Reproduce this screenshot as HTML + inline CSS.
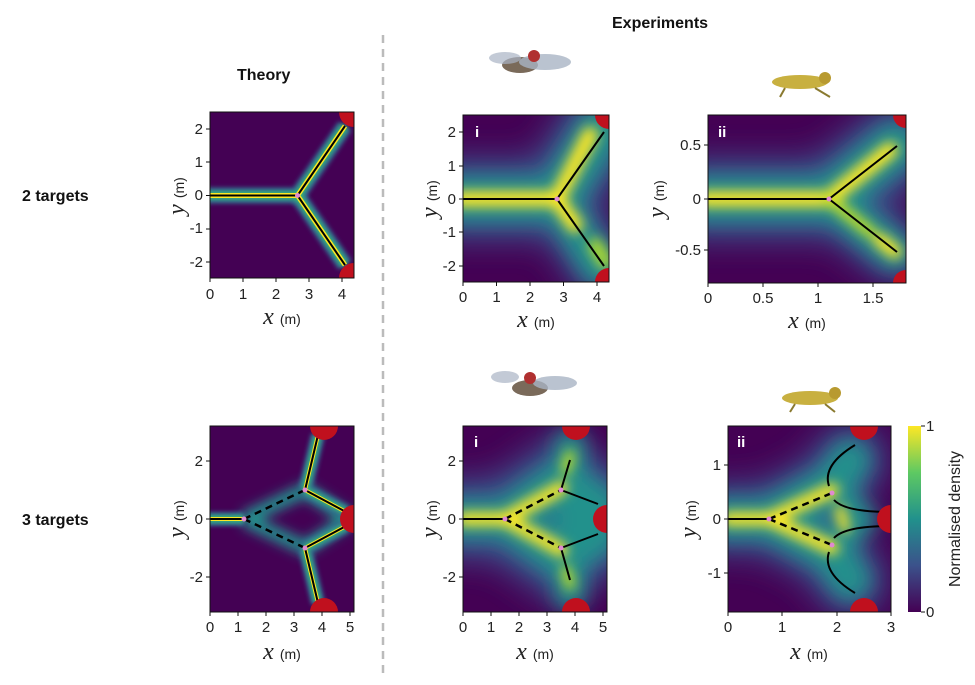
<!DOCTYPE html>
<html><head><meta charset="utf-8"><style>
body{margin:0;background:#fff;width:975px;height:685px;overflow:hidden;font-family:"Liberation Sans",sans-serif}
svg{position:absolute;left:0;top:0}
.t{font-family:"Liberation Sans",sans-serif;font-size:13px;fill:#222}
.ax{font-family:"Liberation Serif",serif;font-style:italic;font-size:24px;fill:#222}
.m{font-family:"Liberation Sans",sans-serif;font-size:14px;fill:#222;font-style:normal}
.h{font-family:"Liberation Sans",sans-serif;font-weight:bold;font-size:16px;fill:#111}
</style></head><body>
<svg width="975" height="685" viewBox="0 0 975 685">
<defs>
<filter id="b1" filterUnits="userSpaceOnUse" x="0" y="0" width="975" height="685"><feGaussianBlur stdDeviation="2"/></filter>
<filter id="b2" filterUnits="userSpaceOnUse" x="0" y="0" width="975" height="685"><feGaussianBlur stdDeviation="6"/></filter>
<filter id="b3" filterUnits="userSpaceOnUse" x="0" y="0" width="975" height="685"><feGaussianBlur stdDeviation="10"/></filter>
<filter id="b4" filterUnits="userSpaceOnUse" x="0" y="0" width="975" height="685"><feGaussianBlur stdDeviation="16"/></filter>
<clipPath id="c1"><rect x="210" y="112" width="144" height="166"/></clipPath>
<clipPath id="c2"><rect x="463" y="115" width="146" height="167"/></clipPath>
<clipPath id="c3"><rect x="708" y="115" width="198" height="168"/></clipPath>
<clipPath id="c4"><rect x="210" y="426" width="144" height="186"/></clipPath>
<clipPath id="c5"><rect x="463" y="426" width="144" height="186"/></clipPath>
<clipPath id="c6"><rect x="728" y="426" width="163" height="186"/></clipPath>
<linearGradient id="vir" x1="0" y1="1" x2="0" y2="0">
<stop offset="0" stop-color="#440154"/><stop offset="0.25" stop-color="#3b528b"/><stop offset="0.5" stop-color="#21918c"/><stop offset="0.75" stop-color="#5ec962"/><stop offset="1" stop-color="#fde725"/></linearGradient>
</defs>

<text class="h" x="237" y="80">Theory</text>
<text class="h" x="612" y="28">Experiments</text>
<text class="h" x="22" y="201">2 targets</text>
<text class="h" x="22" y="525">3 targets</text>
<line x1="383" y1="35" x2="383" y2="675" stroke="#bbb" stroke-width="2.5" stroke-dasharray="8,6"/>

<g><ellipse cx="520" cy="65" rx="18" ry="8" fill="#7a6a5a"/><ellipse cx="545" cy="62" rx="26" ry="8" fill="#a9b4c4" opacity="0.8"/><ellipse cx="505" cy="58" rx="16" ry="6" fill="#a9b4c4" opacity="0.7"/><circle cx="534" cy="56" r="6" fill="#b03030"/></g>
<g><ellipse cx="530" cy="388" rx="18" ry="8" fill="#7a6a5a"/><ellipse cx="555" cy="383" rx="22" ry="7" fill="#a9b4c4" opacity="0.8"/><ellipse cx="505" cy="377" rx="14" ry="6" fill="#a9b4c4" opacity="0.7"/><circle cx="530" cy="378" r="6" fill="#b03030"/></g>
<g><ellipse cx="800" cy="82" rx="28" ry="7" fill="#c8b040"/><circle cx="825" cy="78" r="6" fill="#b89a30"/><line x1="785" y1="88" x2="780" y2="97" stroke="#8a7a30" stroke-width="2"/><line x1="815" y1="88" x2="830" y2="97" stroke="#8a7a30" stroke-width="2"/></g>
<g><ellipse cx="810" cy="398" rx="28" ry="7" fill="#c8b040"/><circle cx="835" cy="393" r="6" fill="#b89a30"/><line x1="795" y1="404" x2="790" y2="412" stroke="#8a7a30" stroke-width="2"/><line x1="825" y1="404" x2="835" y2="412" stroke="#8a7a30" stroke-width="2"/></g>

<!-- Panel 1 -->
<g clip-path="url(#c1)">
<rect x="210" y="112" width="144" height="166" fill="#440154"/>
<g fill="none" stroke-linejoin="round">
<polyline points="205,195.5 297.5,195.5 345,126" stroke="#31688e" stroke-width="16" filter="url(#b1)"/>
<polyline points="297.5,195.5 345,265" stroke="#31688e" stroke-width="16" filter="url(#b1)"/>
<polyline points="205,195.5 297.5,195.5 345,126" stroke="#35b779" stroke-width="8" filter="url(#b1)"/>
<polyline points="297.5,195.5 345,265" stroke="#35b779" stroke-width="8" filter="url(#b1)"/>
<polyline points="205,195.5 297.5,195.5 345,126" stroke="#fde725" stroke-width="5"/>
<polyline points="297.5,195.5 345,265" stroke="#fde725" stroke-width="5"/>
<polyline points="205,195.5 297.5,195.5 345,126" stroke="#000" stroke-width="2"/>
<polyline points="297.5,195.5 345,265" stroke="#000" stroke-width="2"/>
</g>
<circle cx="297.5" cy="195.5" r="2.5" fill="#e08ad0"/>
<circle cx="354" cy="112" r="15" fill="#c0101e"/><circle cx="354" cy="278" r="15" fill="#c0101e"/>
</g>
<rect x="210" y="112" width="144" height="166" fill="none" stroke="#111"/>

<!-- Panel 2 -->
<g clip-path="url(#c2)">
<rect x="463" y="115" width="146" height="167" fill="#440154"/>
<g fill="none" stroke-linecap="round" filter="url(#b4)">
<polyline points="455,199 557,199 600,130" stroke="#3b528b" stroke-width="80"/>
<polyline points="557,199 600,268" stroke="#3b528b" stroke-width="60"/>
</g>
<g fill="none" stroke-linecap="round" filter="url(#b3)">
<polyline points="455,199 557,199 600,130" stroke="#21918c" stroke-width="45"/>
<polyline points="557,199 600,268" stroke="#21918c" stroke-width="35"/>
</g>
<g fill="none" stroke-linecap="round" filter="url(#b2)">
<polyline points="460,199 557,199 590,135" stroke="#fde725" stroke-width="16"/>
<polyline points="557,200 575,225" stroke="#fde725" stroke-width="16"/>
<polyline points="595,245 605,262" stroke="#b5de2b" stroke-width="14"/>
</g>
<polyline points="463,199 557,199 604,132" fill="none" stroke="#000" stroke-width="2"/>
<polyline points="557,199 604,266" fill="none" stroke="#000" stroke-width="2"/>
<circle cx="557" cy="199" r="2.5" fill="#e08ad0"/>
<circle cx="609" cy="115" r="14" fill="#c0101e"/><circle cx="609" cy="282" r="14" fill="#c0101e"/>
<text x="475" y="137" style="font:bold 15px 'Liberation Sans',sans-serif;fill:#fff">i</text>
</g>
<rect x="463" y="115" width="146" height="167" fill="none" stroke="#111"/>

<!-- Panel 3 -->
<g clip-path="url(#c3)">
<rect x="708" y="115" width="198" height="168" fill="#440154"/>
<g fill="none" stroke-linecap="round" filter="url(#b4)">
<polyline points="700,199 829,199 895,146" stroke="#3b528b" stroke-width="80"/>
<polyline points="829,199 895,252" stroke="#3b528b" stroke-width="60"/>
</g>
<g fill="none" stroke-linecap="round" filter="url(#b3)">
<polyline points="700,199 829,199 895,146" stroke="#21918c" stroke-width="45"/>
<polyline points="829,199 895,252" stroke="#21918c" stroke-width="35"/>
</g>
<g fill="none" stroke-linecap="round" filter="url(#b2)">
<polyline points="705,199 829,199 890,150" stroke="#fde725" stroke-width="16"/>
<polyline points="829,199 870,232" stroke="#c8e020" stroke-width="12"/>
<polyline points="880,240 895,252" stroke="#fde725" stroke-width="14"/>
</g>
<polyline points="708,199 829,199 897,146" fill="none" stroke="#000" stroke-width="2"/>
<polyline points="829,199 897,252" fill="none" stroke="#000" stroke-width="2"/>
<circle cx="829" cy="199" r="2.5" fill="#e08ad0"/>
<circle cx="906" cy="115" r="13" fill="#c0101e"/><circle cx="906" cy="283" r="13" fill="#c0101e"/>
<text x="718" y="137" style="font:bold 15px 'Liberation Sans',sans-serif;fill:#fff">ii</text>
</g>
<rect x="708" y="115" width="198" height="168" fill="none" stroke="#111"/>

<!-- Panel 4 -->
<g clip-path="url(#c4)">
<rect x="210" y="426" width="144" height="186" fill="#440154"/>
<g fill="none" stroke-linejoin="round">
<g stroke="#21918c" stroke-width="14" filter="url(#b2)">
<polyline points="244,519 305,490 349,519 305,548 244,519"/>
</g>
<g stroke="#31688e" stroke-width="14" filter="url(#b1)">
<polyline points="205,519 244,519"/><polyline points="305,490 318,435"/><polyline points="305,548 318,603"/><polyline points="305,490 346,512"/><polyline points="305,548 346,526"/>
</g>
<g stroke="#35b779" stroke-width="7" filter="url(#b1)">
<polyline points="205,519 244,519"/><polyline points="305,490 318,435"/><polyline points="305,548 318,603"/><polyline points="305,490 346,512"/><polyline points="305,548 346,526"/>
</g>
<g stroke="#fde725" stroke-width="4">
<polyline points="205,519 244,519"/><polyline points="305,490 318,435"/><polyline points="305,548 318,603"/><polyline points="305,490 346,512"/><polyline points="305,548 346,526"/>
</g>
<g stroke="#000" stroke-width="2">
<polyline points="210,519 244,519"/><polyline points="305,490 318,435"/><polyline points="305,548 318,603"/><polyline points="305,490 346,512"/><polyline points="305,548 346,526"/>
</g>
<g stroke="#000" stroke-width="2.5" stroke-dasharray="7,5"><polyline points="244,519 305,490"/><polyline points="244,519 305,548"/></g>
</g>
<circle cx="244" cy="519" r="2.5" fill="#e08ad0"/><circle cx="305" cy="490" r="2.5" fill="#e08ad0"/><circle cx="305" cy="548" r="2.5" fill="#e08ad0"/>
<circle cx="324" cy="426" r="14" fill="#c0101e"/><circle cx="354" cy="519" r="14" fill="#c0101e"/><circle cx="324" cy="612" r="14" fill="#c0101e"/>
</g>
<rect x="210" y="426" width="144" height="186" fill="none" stroke="#111"/>

<!-- Panel 5 -->
<g clip-path="url(#c5)">
<rect x="463" y="426" width="144" height="186" fill="#440154"/>
<g fill="none" stroke-linecap="round" filter="url(#b4)">
<polyline points="455,519 505,519 561,480 598,505" stroke="#3b528b" stroke-width="80"/>
<polyline points="505,519 561,558 598,535" stroke="#3b528b" stroke-width="80"/>
</g>
<g fill="none" stroke-linecap="round" filter="url(#b3)">
<polyline points="455,519 505,519 561,480 598,505" stroke="#21918c" stroke-width="40"/>
<polyline points="505,519 561,558 598,535" stroke="#21918c" stroke-width="40"/>
<polyline points="570,445 570,595" stroke="#21918c" stroke-width="30"/>
</g>
<g fill="none" stroke-linecap="round" filter="url(#b2)">
<polyline points="463,519 505,519 561,488" stroke="#fde725" stroke-width="14"/>
<polyline points="505,519 561,550" stroke="#fde725" stroke-width="14"/>
<polyline points="566,470 570,455" stroke="#c8e020" stroke-width="10"/>
<polyline points="566,570 570,585" stroke="#c8e020" stroke-width="10"/>
</g>
<polyline points="463,519 505,519" fill="none" stroke="#000" stroke-width="2"/>
<g stroke="#000" stroke-width="2.5" stroke-dasharray="7,5" fill="none"><polyline points="505,519 561,490"/><polyline points="505,519 561,548"/></g>
<g stroke="#000" stroke-width="2" fill="none"><polyline points="561,490 570,460"/><polyline points="561,490 598,504"/><polyline points="561,548 570,580"/><polyline points="561,548 598,534"/></g>
<circle cx="505" cy="519" r="2.5" fill="#e08ad0"/><circle cx="561" cy="490" r="2.5" fill="#e08ad0"/><circle cx="561" cy="548" r="2.5" fill="#e08ad0"/>
<circle cx="576" cy="426" r="14" fill="#c0101e"/><circle cx="607" cy="519" r="14" fill="#c0101e"/><circle cx="576" cy="612" r="14" fill="#c0101e"/>
<text x="474" y="447" style="font:bold 15px 'Liberation Sans',sans-serif;fill:#fff">i</text>
</g>
<rect x="463" y="426" width="144" height="186" fill="none" stroke="#111"/>

<!-- Panel 6 -->
<g clip-path="url(#c6)">
<rect x="728" y="426" width="163" height="186" fill="#440154"/>
<g fill="none" stroke-linecap="round" filter="url(#b4)">
<polyline points="720,519 769,519 832,485 850,460" stroke="#3b528b" stroke-width="70"/>
<polyline points="769,519 832,553 850,580" stroke="#3b528b" stroke-width="70"/>
</g>
<g fill="none" stroke-linecap="round" filter="url(#b3)">
<polyline points="720,519 769,519 832,485 850,460" stroke="#21918c" stroke-width="40"/>
<polyline points="769,519 832,553 850,580" stroke="#21918c" stroke-width="40"/>
<polyline points="832,490 860,519 832,548" stroke="#21918c" stroke-width="30"/>
</g>
<g fill="none" stroke-linecap="round" filter="url(#b2)">
<polyline points="728,519 769,519 832,490" stroke="#fde725" stroke-width="14"/>
<polyline points="769,519 832,548" stroke="#fde725" stroke-width="14"/>
<polyline points="840,510 845,528" stroke="#fde725" stroke-width="10"/>
</g>
<polyline points="728,519 769,519" fill="none" stroke="#000" stroke-width="2"/>
<g stroke="#000" stroke-width="2.5" stroke-dasharray="7,5" fill="none"><polyline points="769,519 832,493"/><polyline points="769,519 832,545"/></g>
<g stroke="#000" stroke-width="2" fill="none">
<path d="M829,486 Q822,465 855,445"/><path d="M829,552 Q822,573 855,593"/>
<path d="M834,500 Q845,512 891,512"/><path d="M834,538 Q845,526 891,526"/>
</g>
<circle cx="769" cy="519" r="2.5" fill="#e08ad0"/><circle cx="832" cy="493" r="2.5" fill="#e08ad0"/><circle cx="832" cy="545" r="2.5" fill="#e08ad0"/>
<circle cx="864" cy="426" r="14" fill="#c0101e"/><circle cx="891" cy="519" r="14" fill="#c0101e"/><circle cx="864" cy="612" r="14" fill="#c0101e"/>
<text x="737" y="447" style="font:bold 15px 'Liberation Sans',sans-serif;fill:#fff">ii</text>
</g>
<rect x="728" y="426" width="163" height="186" fill="none" stroke="#111"/>

<rect x="908" y="426" width="13" height="186" fill="url(#vir)"/>
<line x1="921" y1="426" x2="925" y2="426" stroke="#111"/><line x1="921" y1="612" x2="925" y2="612" stroke="#111"/>
<text class="t" x="926" y="431" style="font-size:15px">1</text>
<text class="t" x="926" y="617" style="font-size:15px">0</text>
<text class="t" transform="translate(960,519) rotate(-90)" text-anchor="middle" style="font-size:16px">Normalised density</text>

<g class="t" text-anchor="middle" style="font-size:15px">
<text x="210" y="299">0</text><text x="243" y="299">1</text><text x="276" y="299">2</text><text x="309" y="299">3</text><text x="342" y="299">4</text>
<text x="463" y="302">0</text><text x="496.5" y="302">1</text><text x="530" y="302">2</text><text x="563.5" y="302">3</text><text x="597" y="302">4</text>
<text x="708" y="303">0</text><text x="763" y="303">0.5</text><text x="818" y="303">1</text><text x="873" y="303">1.5</text>
<text x="210" y="632">0</text><text x="238" y="632">1</text><text x="266" y="632">2</text><text x="294" y="632">3</text><text x="322" y="632">4</text><text x="350" y="632">5</text>
<text x="463" y="632">0</text><text x="491" y="632">1</text><text x="519" y="632">2</text><text x="547" y="632">3</text><text x="575" y="632">4</text><text x="603" y="632">5</text>
<text x="728" y="632">0</text><text x="782" y="632">1</text><text x="837" y="632">2</text><text x="891" y="632">3</text>
</g>
<g class="t" text-anchor="end" style="font-size:15px">
<text x="203" y="134">2</text><text x="203" y="167">1</text><text x="203" y="200">0</text><text x="203" y="233">-1</text><text x="203" y="267">-2</text>
<text x="456" y="137">2</text><text x="456" y="171">1</text><text x="456" y="204">0</text><text x="456" y="237">-1</text><text x="456" y="271">-2</text>
<text x="701" y="150">0.5</text><text x="701" y="204">0</text><text x="701" y="255">-0.5</text>
<text x="203" y="466">2</text><text x="203" y="524">0</text><text x="203" y="582">-2</text>
<text x="456" y="466">2</text><text x="456" y="524">0</text><text x="456" y="582">-2</text>
<text x="721" y="470">1</text><text x="721" y="524">0</text><text x="721" y="578">-1</text>
</g>
<g text-anchor="middle">
<text x="282" y="324" class="ax">x <tspan class="m">(m)</tspan></text>
<text x="536" y="327" class="ax">x <tspan class="m">(m)</tspan></text>
<text x="807" y="328" class="ax">x <tspan class="m">(m)</tspan></text>
<text x="282" y="659" class="ax">x <tspan class="m">(m)</tspan></text>
<text x="535" y="659" class="ax">x <tspan class="m">(m)</tspan></text>
<text x="809" y="659" class="ax">x <tspan class="m">(m)</tspan></text>
<text class="ax" transform="translate(184,196) rotate(-90)">y <tspan class="m">(m)</tspan></text>
<text class="ax" transform="translate(437,199) rotate(-90)">y <tspan class="m">(m)</tspan></text>
<text class="ax" transform="translate(664,199) rotate(-90)">y <tspan class="m">(m)</tspan></text>
<text class="ax" transform="translate(184,519) rotate(-90)">y <tspan class="m">(m)</tspan></text>
<text class="ax" transform="translate(437,519) rotate(-90)">y <tspan class="m">(m)</tspan></text>
<text class="ax" transform="translate(696,519) rotate(-90)">y <tspan class="m">(m)</tspan></text>
</g>
<g stroke="#111">
<path d="M210,278v4M243,278v4M276,278v4M309,278v4M342,278v4M206,129h4M206,162h4M206,195.5h4M206,229h4M206,262h4"/>
<path d="M463,282v4M496.5,282v4M530,282v4M563.5,282v4M597,282v4M459,132h4M459,166h4M459,199h4M459,232h4M459,266h4"/>
<path d="M708,283v4M763,283v4M818,283v4M873,283v4M704,145h4M704,199h4M704,250h4"/>
<path d="M210,612v4M238,612v4M266,612v4M294,612v4M322,612v4M350,612v4M206,461h4M206,519h4M206,577h4"/>
<path d="M463,612v4M491,612v4M519,612v4M547,612v4M575,612v4M603,612v4M459,461h4M459,519h4M459,577h4"/>
<path d="M728,612v4M782,612v4M837,612v4M891,612v4M724,465h4M724,519h4M724,573h4"/>
</g>
</svg>
</body></html>
